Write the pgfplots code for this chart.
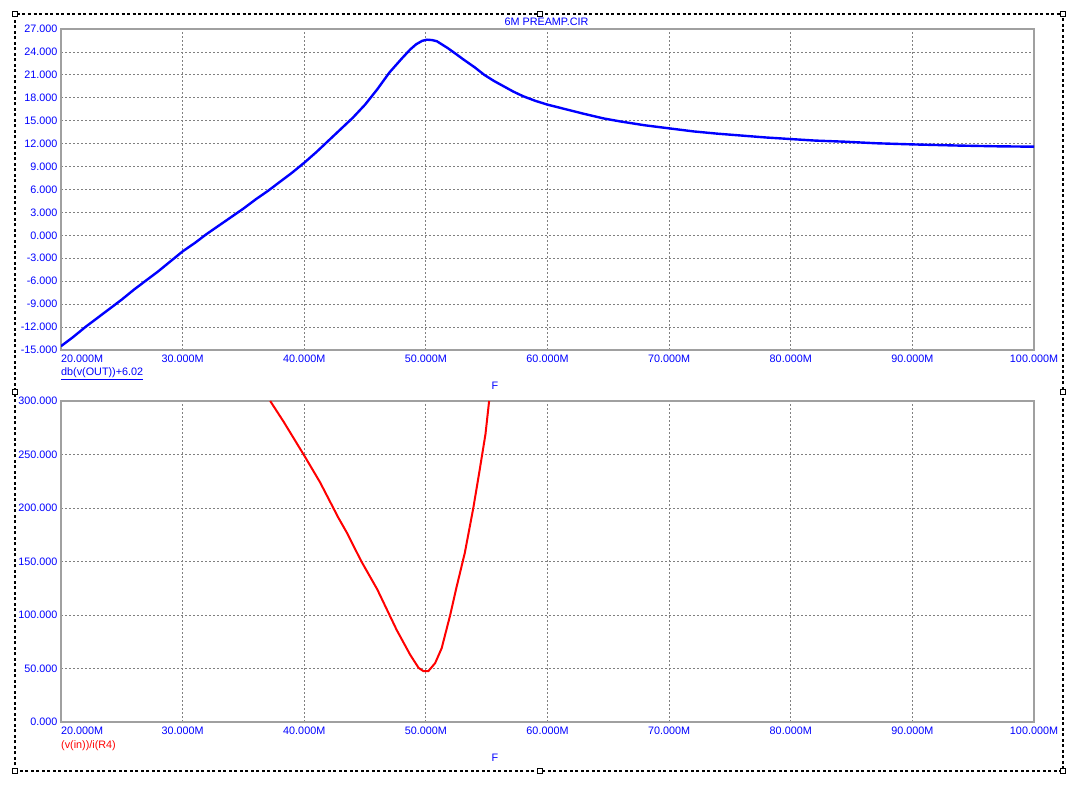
\documentclass[border=0pt]{standalone}
\usepackage{fontspec}
\setmainfont{Liberation Sans}
\usepackage{pgfplots}
\pgfplotsset{compat=1.18}

\definecolor{mcblue}{RGB}{0,0,255}
\definecolor{mcred}{RGB}{255,0,0}
\definecolor{gridgray}{RGB}{128,128,128}
\definecolor{framegray}{RGB}{160,160,160}
\newcommand{\tf}{\fontsize{10.8}{13}\selectfont}

\pgfplotsset{
  mcaxis/.style={
    anchor=south west, width=973pt, height=321pt, scale only axis,
    xmin=20, xmax=100, xtick={20,30,...,100},
    xticklabels={\makebox[0pt][l]{20.000M},30.000M,40.000M,50.000M,60.000M,70.000M,80.000M,90.000M,100.000M},
    grid=major,
    major grid style={gridgray, dash pattern=on 2pt off 2pt, line width=0.8pt},
    axis line style={framegray, line width=1.3pt},
    major tick length=0pt,
    tick label style={mcblue, font=\tf},
    x tick label style={anchor=north, yshift=-1.5pt},
    /pgf/number format/assume math mode=true,
    yticklabel={\pgfmathprintnumber[fixed, fixed zerofill, precision=3, 1000 sep={}]{\tick}},
  }
}

\begin{document}
\begin{tikzpicture}
\path[use as bounding box] (0,0) rectangle (1087pt,787pt);

% top plot
\begin{axis}[mcaxis, at={(61pt,437pt)},
  ymin=-15, ymax=27, ytick={-15,-12,...,27}]
\addplot[mcblue, line width=2.4pt] coordinates {
(20,-14.5) (21,-13.3) (22,-12.0) (23,-10.8) (24,-9.6) (25,-8.4) (26,-7.1)
(27,-5.9) (28,-4.7) (29,-3.4) (30,-2.1) (31,-1.0) (32,0.2) (33,1.3)
(34,2.4) (35,3.5) (36,4.7) (37,5.8) (38,7.0) (39,8.2) (40,9.5)
(41,10.9) (42,12.4) (43,13.9) (44,15.4) (45,17.1) (46,19.1) (47,21.3)
(48,23.1) (48.7,24.3) (49.2,25.0) (49.7,25.45) (50.1,25.6) (50.5,25.55)
(50.9,25.4) (51.4,24.9) (51.8,24.5) (52.5,23.7) (53.1,23.0) (54,22.0)
(54.8,21.0) (55.6,20.2) (56.4,19.5) (57.2,18.8) (58,18.2) (59,17.6)
(60,17.1) (61,16.7) (62,16.3) (63,15.9) (64.6,15.3) (66,14.9) (68,14.4)
(70,14.0) (72,13.6) (74,13.3) (76,13.05) (78,12.8) (80,12.6) (82,12.4)
(84.5,12.25) (87,12.05) (90,11.9) (93.7,11.75) (97,11.65) (100,11.6)
};
\end{axis}

% bottom plot
\begin{axis}[mcaxis, at={(61pt,65pt)},
  ymin=0, ymax=300, ytick={0,50,...,300}]
\addplot[mcred, line width=2pt] coordinates {
(37.2,300) (38.3,280.7) (40,249) (41.3,224) (42.8,191) (43.5,177)
(44.7,150) (46.0,124) (46.8,105) (47.6,86) (48.7,63) (49.4,50.6)
(49.8,47.5) (50.2,47.5) (50.76,55) (51.3,69) (52.0,100) (52.5,125)
(53.2,158) (53.9,200) (54.4,234) (54.9,269) (55.2,300)
};
\end{axis}

% labels
\node[mcblue, font=\tf] at (546.5pt,765pt) {6M PREAMP.CIR};
\node[mcblue, font=\tf, anchor=west, inner sep=0pt] at (61pt,413.7pt) {\underline{db(v(OUT))+6.02}};
\node[mcblue, font=\tf] at (495pt,401pt) {F};
\node[mcred, font=\tf, anchor=west, inner sep=0pt] at (61pt,41.3pt) {(v(in))/i(R4)};
\node[mcblue, font=\tf] at (495pt,29pt) {F};

% selection frame
\draw[black, line width=1.1pt, dash pattern=on 3pt off 2.5pt] (15pt,16pt) rectangle (1063pt,773pt);
\foreach \x/\y in {15/773,540/773,1063/773,15/395,1063/395,15/16,540/16,1063/16}
  \draw[black, line width=1pt, fill=white] (\x pt-2.5pt,\y pt-2.5pt) rectangle ++(5pt,5pt);
\end{tikzpicture}
\end{document}
